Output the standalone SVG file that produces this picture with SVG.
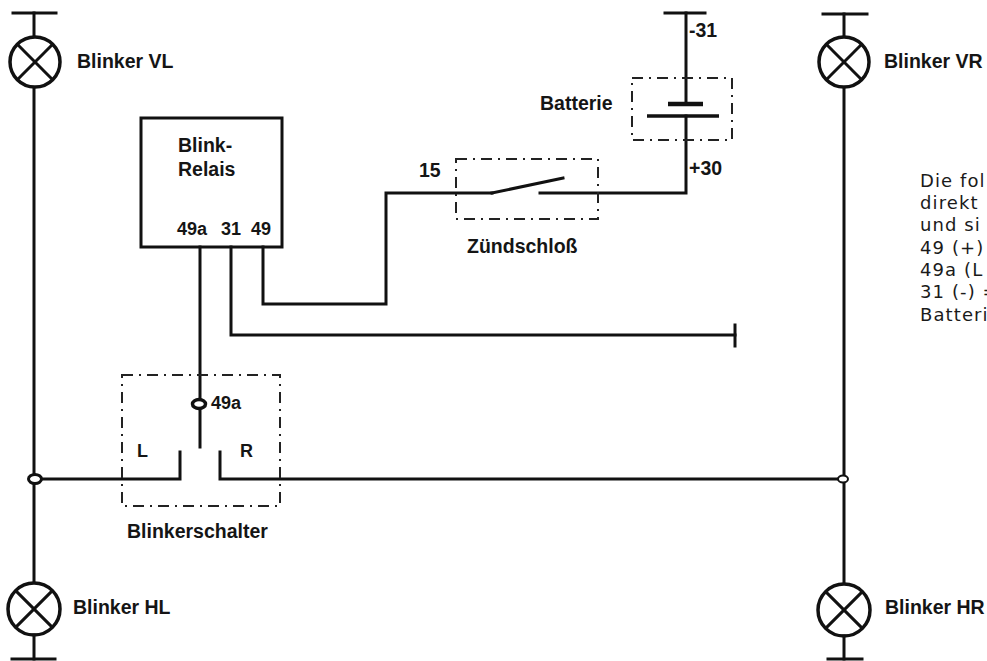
<svg xmlns="http://www.w3.org/2000/svg" width="987" height="661" viewBox="0 0 987 661">
<style>
.w{fill:none;stroke:#111;stroke-width:3;stroke-linecap:square}
.lamp{fill:#fff;stroke:#111;stroke-width:3.5}
.x{stroke:#111;stroke-width:3}
.dd{fill:none;stroke:#222;stroke-width:2;stroke-dasharray:11 6 2 6}
.lb{font-family:"Liberation Sans",Arial,sans-serif;font-weight:bold;font-size:19.5px;fill:#151515}
.pin{font-family:"Liberation Sans",Arial,sans-serif;font-weight:bold;font-size:18px;fill:#151515}
.txt{font-family:"DejaVu Sans",sans-serif;font-size:18px;fill:#1a1a1a;letter-spacing:1.1px}
</style>
<rect width="987" height="661" fill="#fff"/>
<g id="connectors">
<line class="w" x1="34" y1="88" x2="34" y2="582"/>
<line class="w" x1="844" y1="88" x2="844" y2="583"/>
<polyline class="w" points="34,479 180,479 180,452"/>
<polyline class="w" points="220,452 220,479 843,479"/>
<line class="w" x1="200" y1="247" x2="200" y2="447"/>
<polyline class="w" points="231,247 231,335 735,335"/>
<line class="w" x1="735" y1="325" x2="735" y2="346"/>
<polyline class="w" points="263,247 263,304 386,304 386,193 492,193"/>
<line class="w" x1="492" y1="193" x2="563" y2="178"/>
<polyline class="w" points="540,193 686,193 686,116"/>
</g>
<g id="lamp-vl">
<line class="w" x1="13" y1="13" x2="56" y2="13"/>
<line class="w" x1="34" y1="13" x2="34" y2="37"/>
<circle class="lamp" cx="35" cy="62" r="25"/>
<line class="x" x1="17.3" y1="44.3" x2="52.7" y2="79.7"/>
<line class="x" x1="52.7" y1="44.3" x2="17.3" y2="79.7"/>
<text class="lb" x="77" y="68">Blinker VL</text>
</g>
<g id="lamp-vr">
<line class="w" x1="823" y1="14" x2="867" y2="14"/>
<line class="w" x1="844" y1="14" x2="844" y2="37"/>
<circle class="lamp" cx="844" cy="62" r="25"/>
<line class="x" x1="826.3" y1="44.3" x2="861.7" y2="79.7"/>
<line class="x" x1="861.7" y1="44.3" x2="826.3" y2="79.7"/>
<text class="lb" x="884" y="68">Blinker VR</text>
</g>
<g id="lamp-hl">
<circle class="lamp" cx="34" cy="609" r="26"/>
<line class="x" x1="15.6" y1="590.6" x2="52.4" y2="627.4"/>
<line class="x" x1="52.4" y1="590.6" x2="15.6" y2="627.4"/>
<line class="w" x1="34" y1="635" x2="34" y2="659"/>
<line class="w" x1="12" y1="659" x2="55" y2="659"/>
<text class="lb" x="73" y="614">Blinker HL</text>
</g>
<g id="lamp-hr">
<circle class="lamp" cx="844" cy="610" r="26"/>
<line class="x" x1="825.6" y1="591.6" x2="862.4" y2="628.4"/>
<line class="x" x1="862.4" y1="591.6" x2="825.6" y2="628.4"/>
<line class="w" x1="844" y1="636" x2="844" y2="659"/>
<line class="w" x1="828" y1="659" x2="862" y2="659"/>
<text class="lb" x="885" y="614">Blinker HR</text>
</g>
<g id="junction-l">
<ellipse cx="35" cy="479" rx="6.5" ry="4.5" fill="#fff" stroke="#111" stroke-width="3"/>
</g>
<g id="junction-r">
<ellipse cx="843" cy="479" rx="5" ry="3.5" fill="#fff" stroke="#111" stroke-width="2"/>
</g>
<g id="relais">
<rect x="141" y="118" width="141" height="129" fill="none" stroke="#111" stroke-width="3"/>
<text class="lb" x="178" y="152">Blink-</text>
<text class="lb" x="178" y="176">Relais</text>
<text class="pin" x="177" y="235">49a</text>
<text class="pin" x="221" y="235">31</text>
<text class="pin" x="251" y="235">49</text>
</g>
<g id="blinkerschalter">
<rect class="dd" x="122" y="375" width="158" height="131"/>
<ellipse cx="199" cy="404" rx="6.5" ry="4.5" fill="#fff" stroke="#111" stroke-width="3.5"/>
<text class="pin" x="211" y="409">49a</text>
<text class="pin" x="137" y="457">L</text>
<text class="pin" x="240" y="457">R</text>
<text class="lb" x="127" y="538">Blinkerschalter</text>
</g>
<g id="zuendschloss">
<rect class="dd" x="456" y="159" width="142" height="60"/>
<text class="lb" x="419" y="177">15</text>
<text class="lb" x="467" y="253">Zündschloß</text>
</g>
<g id="batterie">
<line class="w" x1="665" y1="13" x2="705" y2="13"/>
<line class="w" x1="686" y1="13" x2="686" y2="104"/>
<line stroke="#111" stroke-width="4.5" x1="668" y1="104" x2="703" y2="104"/>
<line stroke="#111" stroke-width="3.5" x1="647" y1="116" x2="719" y2="116"/>
<rect class="dd" x="632" y="78" width="100" height="62"/>
<text class="lb" x="689" y="37">-31</text>
<text class="lb" x="689" y="175">+30</text>
<text class="lb" x="540" y="110">Batterie</text>
</g>
<g id="legende">
<text class="txt" x="920" y="187">Die fol</text>
<text class="txt" x="920" y="209">direkt</text>
<text class="txt" x="920" y="231">und si</text>
<text class="txt" x="920" y="254">49 (+)</text>
<text class="txt" x="920" y="276">49a (L</text>
<text class="txt" x="920" y="298">31 (-) =</text>
<text class="txt" x="920" y="321">Batteri</text>
</g>
</svg>
